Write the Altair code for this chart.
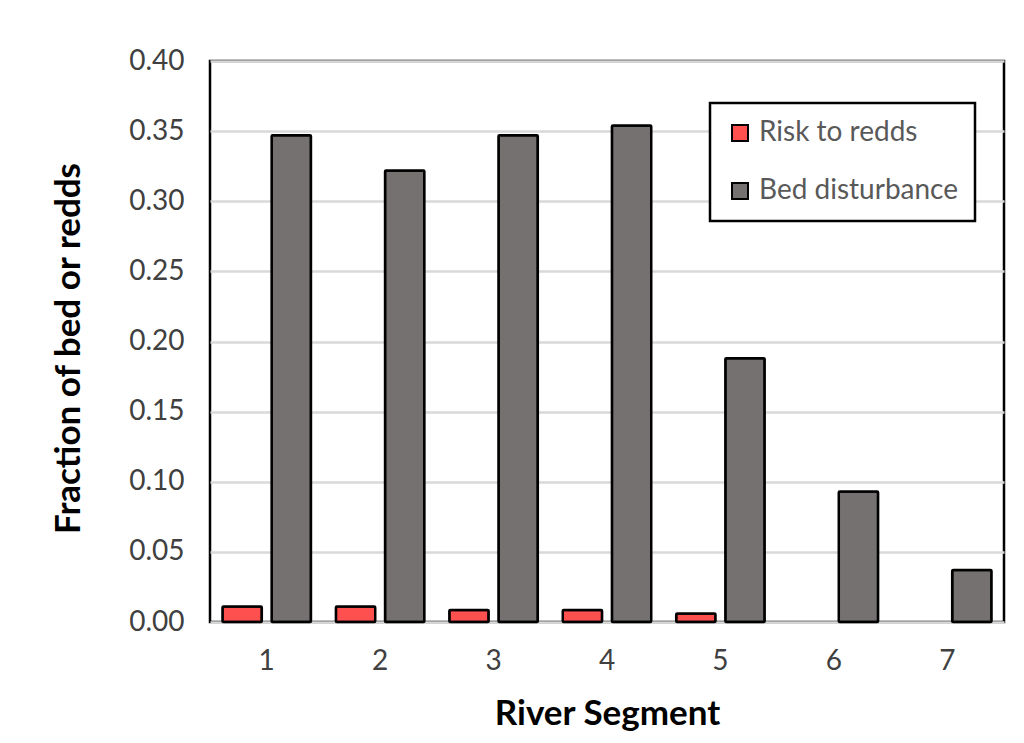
import altair as alt
import pandas as pd

segments = [1, 2, 3, 4, 5, 6, 7]
risk_to_redds = [0.011, 0.011, 0.0085, 0.0085, 0.006, 0.0, 0.0]
bed_disturbance = [0.347, 0.322, 0.347, 0.354, 0.188, 0.093, 0.037]
series_names = ["Risk to redds", "Bed disturbance"]
series_colors = ["#FF5050", "#767171"]
y_ticks = [0.0, 0.05, 0.10, 0.15, 0.20, 0.25, 0.30, 0.35, 0.40]

rows = []
for s, r, b in zip(segments, risk_to_redds, bed_disturbance):
    rows.append({"segment": s, "series": series_names[0], "value": r})
    rows.append({"segment": s, "series": series_names[1], "value": b})
df = pd.DataFrame(rows)

FONT = "Lato"

chart = (
    alt.Chart(df)
    .transform_filter("datum.value > 0")
    .mark_bar(stroke="black", strokeWidth=2.5, cornerRadius=1)
    .encode(
        x=alt.X(
            "segment:O",
            scale=alt.Scale(domain=segments, paddingInner=0.22, paddingOuter=0.11),
            axis=alt.Axis(
                title="River Segment",
                labelAngle=0,
                labelPadding=25,
                titleX=397,
                titleY=91,
                titleBaseline="middle",
                titleAlign="center",
                titleAnchor="middle",
            ),
        ),
        xOffset=alt.XOffset(
            "series:N",
            sort=series_names,
            scale=alt.Scale(domain=series_names, paddingInner=0.2),
        ),
        y=alt.Y(
            "value:Q",
            scale=alt.Scale(domain=[0, 0.4]),
            axis=alt.Axis(
                title="Fraction of bed or redds",
                values=y_ticks,
                format=".2f",
                labelPadding=26,
                titleX=-142,
                titleY=287,
                titleAngle=-90,
                titleBaseline="middle",
                titleAlign="center",
            ),
        ),
        color=alt.Color(
            "series:N",
            sort=series_names,
            scale=alt.Scale(domain=series_names, range=series_colors),
            legend=alt.Legend(
                title=None,
                orient="none",
                legendX=500,
                legendY=42,
                symbolType="square",
                symbolSize=256,
                symbolStrokeColor="black",
                symbolStrokeWidth=2,
                symbolOpacity=1,
                labelFont=FONT,
                labelFontSize=28,
                labelColor="#595959",
                labelOffset=5,
                labelLimit=400,
                rowPadding=30,
                padding=16,
                fillColor="white",
                strokeColor="black",
            ),
        ),
    )
    .properties(
        width=794,
        height=561,
        padding={"left": 202, "top": 53, "right": 6, "bottom": 110},
        autosize=alt.AutoSizeParams(type="none"),
        background="white",
    )
    .configure_view(stroke="black", strokeWidth=2.5)
    .configure_legend(strokeWidth=2.5)
    .configure_axis(
        domain=False,
        ticks=False,
        grid=False,
        labelFont=FONT,
        labelFontSize=28,
        labelColor="#404040",
        titleFont=FONT,
        titleFontSize=35,
        titleFontWeight="bold",
        titleColor="black",
    )
    .configure_axisY(grid=True, gridColor="#D9D9D9", gridWidth=2.5)
)

chart.save("out.html", embed_options={"renderer": "svg", "actions": False})
